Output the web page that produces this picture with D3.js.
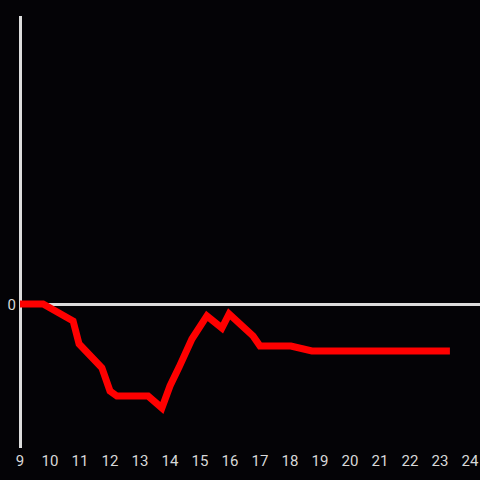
<!DOCTYPE html>
<html><head><meta charset="utf-8">
<script src="https://cdn.jsdelivr.net/npm/d3@7"></script>
<style>html,body{margin:0;padding:0;background:#040306;}svg{display:block;}</style>
</head><body>
<script>
const hours = [9, 9.77, 10.77, 10.97, 11.73, 12.0, 12.23, 13.27, 13.73, 14.0, 14.3, 14.73, 15.23, 15.73, 15.97, 16.77, 17.0, 18.03, 18.73, 23.33];
const values = [0, 0, -0.118, -0.278, -0.444, -0.604, -0.639, -0.639, -0.722, -0.569, -0.44, -0.243, -0.083, -0.167, -0.069, -0.222, -0.292, -0.292, -0.326, -0.326];
const xTicks = d3.range(9, 25);
const yTicks = [0];

const W = 480, H = 480;
const svg = d3.select("body").append("svg").attr("width", W).attr("height", H);
svg.append("rect").attr("width", W).attr("height", H).attr("fill", "#040306");

const x = d3.scaleLinear().domain([9, 24]).range([20, 470]);
const y = d3.scaleLinear().domain([-1, 2]).range([448, 16]);

svg.append("line").attr("x1", 20.5).attr("x2", 20.5).attr("y1", 16).attr("y2", 448)
  .attr("stroke", "#dcdcdc").attr("stroke-width", 3);
svg.append("line").attr("x1", 20).attr("x2", 480).attr("y1", y(0)+0.5).attr("y2", y(0)+0.5)
  .attr("stroke", "#dcdcdc").attr("stroke-width", 3);

svg.selectAll("text.xt").data(xTicks).enter().append("text")
  .attr("class", "xt").attr("x", d => x(d)).attr("y", 466)
  .attr("text-anchor", "middle").attr("fill", "#d8d8d8")
  .attr("font-family", "Roboto, sans-serif").attr("font-size", 15).text(d => d);
svg.selectAll("text.yt").data(yTicks).enter().append("text")
  .attr("class", "yt").attr("x", 16).attr("y", d => y(d) + 5.5)
  .attr("text-anchor", "end").attr("fill", "#d8d8d8")
  .attr("font-family", "Roboto, sans-serif").attr("font-size", 15).text(d => d);

const data = hours.map((h, i) => [h, values[i]]);
svg.append("path").datum(data)
  .attr("d", d3.line().x(d => x(d[0])).y(d => y(d[1])))
  .attr("fill", "none").attr("stroke", "#ff0000").attr("stroke-width", 7)
  .attr("stroke-linejoin", "miter").attr("stroke-linecap", "butt");
</script>
</body></html>
